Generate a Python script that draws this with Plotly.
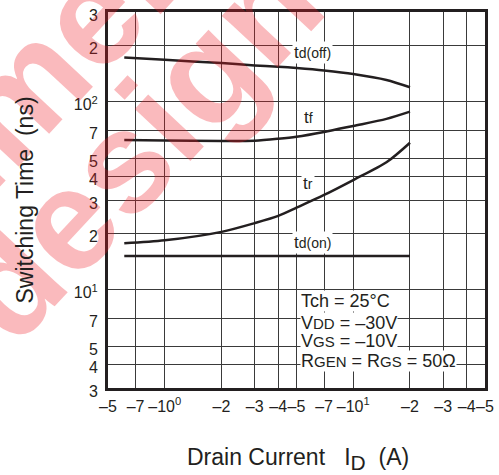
import plotly.graph_objects as go

# ---- data ----
current = [0.61, 1, 2, 3, 4, 5, 7, 10, 15, 20]          # |I_D| (A)
td_off = [172, 167, 160.5, 156, 153.5, 151, 146.5, 140.4, 130.5, 119.3]
t_f = [62.5, 62.2, 61.8, 62.0, 63.5, 65.1, 69.0, 74.3, 81.0, 88.5]
t_r = [17.65, 18.3, 20.3, 22.6, 24.7, 27.3, 31.9, 38.3, 47.6, 60.5]
td_on = [15.1] * len(current)

x_tickvals = [0.5, 0.7, 1, 2, 3, 4, 5, 7, 10, 20, 30, 40, 50]
x_ticktext = ["–5", "–7", "–10<sup>0</sup>", "–2", "–3", "–4", "–5", "–7",
              "–10<sup>1</sup>", "–2", "–3", "–4", "–5"]
y_tickvals = [3, 4, 5, 7, 10, 20, 30, 40, 50, 70, 100, 200, 300]
y_ticktext = ["3", "4", "5", "7", "10<sup>1</sup>", "2", "3", "4", "5", "7",
              "10<sup>2</sup>", "2", "3"]

FONT = "Liberation Sans, Arial, sans-serif"
INK = "#231f20"

# plot-area geometry in pixels (for placing layout text)
L, R, T, B = 108, 485, 12, 388
W, H = 499, 475


def px(x):
    return (x - L) / (R - L)


def py(y):
    return (B - y) / (B - T)


fig = go.Figure()
for ys in [td_off, t_f, t_r, td_on]:
    fig.add_trace(go.Scatter(x=current, y=ys, mode="lines",
                             line=dict(color=INK, width=2.5, shape="spline", smoothing=0.8),
                             showlegend=False, hoverinfo="skip"))

annotations = []

# watermark (translucent)
wm_color = "rgba(237,28,36,0.3)"
annotations.append(dict(text="<b>recommended</b>", x=px(16), y=py(96), xref="paper", yref="paper",
                        showarrow=False, textangle=-47, xanchor="center", yanchor="middle",
                        font=dict(family=FONT, size=144, color=wm_color)))
annotations.append(dict(text="<b>design</b>", x=px(136), y=py(146), xref="paper", yref="paper",
                        showarrow=False, textangle=-47, xanchor="center", yanchor="middle",
                        font=dict(family=FONT, size=144, color=wm_color)))

# curve labels
small = "<span style='font-size:14px'>%s</span>"
for txt, cx, cy in [("t" + small % "d(off)", 312, 52),
                    ("t" + small % "f", 308, 117),
                    ("t" + small % "r", 308, 183),
                    ("t" + small % "d(on)", 312, 243)]:
    annotations.append(dict(text=txt, x=px(cx), y=py(cy), xref="paper", yref="paper",
                            showarrow=False, xanchor="center", yanchor="middle",
                            bgcolor="white", borderpad=1,
                            font=dict(family=FONT, size=17, color=INK)))

# condition text, bottom line first so upper backgrounds sit on top
sub = "<span style='font-size:15px'>%s</span>"
cond = [("Tch = 25°C", 301),
        ("V" + sub % "DD" + " = –30V", 322.5),
        ("V" + sub % "GS" + " = –10V", 340.5),
        ("R" + sub % "GEN" + " = R" + sub % "GS" + " = 50Ω", 360.5)]
for txt, cy in reversed(cond):
    annotations.append(dict(text=txt, x=px(300), y=py(cy), xref="paper", yref="paper",
                            showarrow=False, xanchor="left", yanchor="middle",
                            bgcolor="white", borderpad=0,
                            font=dict(family=FONT, size=18, color=INK)))

# axis titles
annotations.append(dict(text="Drain Current   I<sub><span style='font-size:21px'>D</span></sub>  (A)",
                        x=px(297.5), y=py(459), xref="paper", yref="paper",
                        showarrow=False, xanchor="center", yanchor="middle",
                        font=dict(family=FONT, size=23, color=INK)))
annotations.append(dict(text="Switching Time  (ns)", x=px(24.5), y=py(200),
                        xref="paper", yref="paper", textangle=-90,
                        showarrow=False, xanchor="center", yanchor="middle",
                        font=dict(family=FONT, size=23, color=INK)))

axis_common = dict(type="log", showgrid=True, gridcolor="#3a3a3a", gridwidth=1,
                   showline=True, linecolor=INK, linewidth=3, mirror=True,
                   ticks="", zeroline=False, automargin=False, tickangle=0,
                   tickfont=dict(family=FONT, size=16, color=INK))

fig.update_layout(
    width=W, height=H,
    margin=dict(l=L, r=W - R, t=T, b=H - B, pad=0),
    paper_bgcolor="white", plot_bgcolor="white",
    xaxis=dict(range=[-0.30103, 1.69897], tickvals=x_tickvals, ticktext=x_ticktext,
               ticklabelstandoff=2, **axis_common),
    yaxis=dict(range=[0.47712, 2.47712], tickvals=y_tickvals, ticktext=y_ticktext,
               ticklabelstandoff=4, ticklabelshift=3, **axis_common),
    annotations=annotations,
)

fig.write_html("out.html")
